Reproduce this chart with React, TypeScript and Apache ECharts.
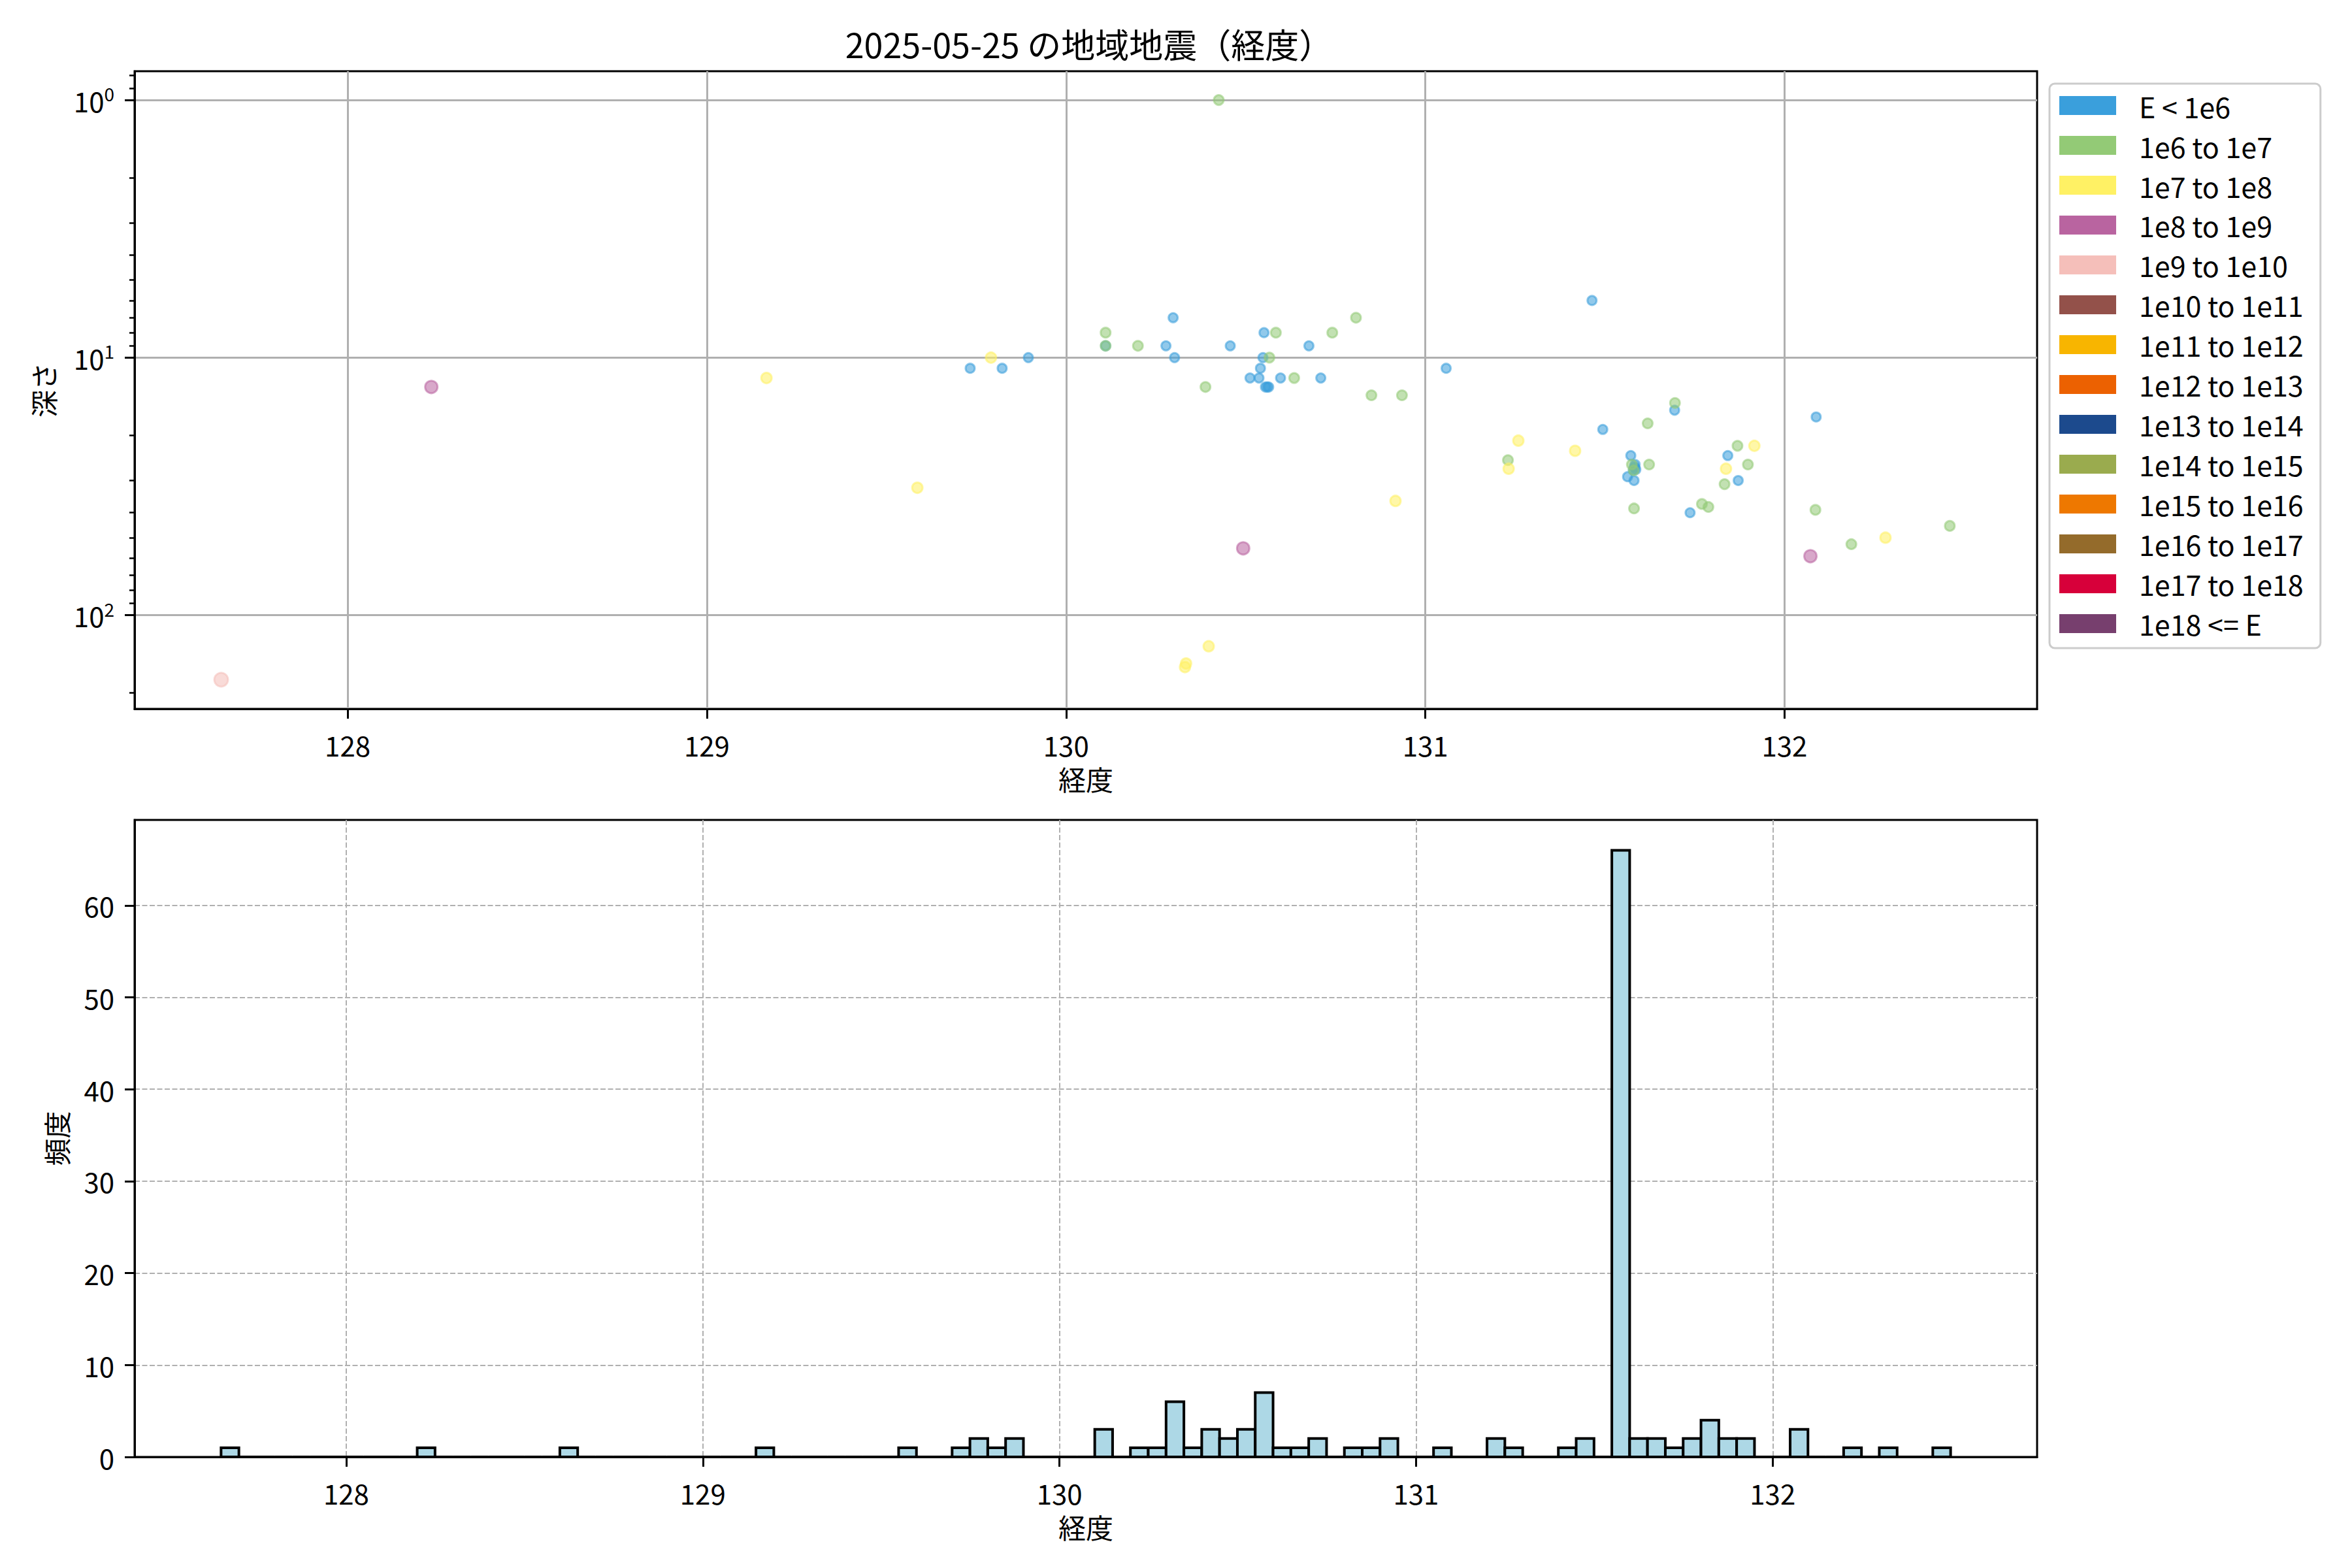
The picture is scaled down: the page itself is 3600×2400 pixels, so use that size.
import React, { useEffect, useRef } from 'react';
import * as echarts from 'echarts';

const FONT = '"Noto Sans CJK JP", "Noto Sans", sans-serif';

// Energy classes (legend)
const CLASS_LABELS = [
  'E < 1e6', '1e6 to 1e7', '1e7 to 1e8', '1e8 to 1e9', '1e9 to 1e10',
  '1e10 to 1e11', '1e11 to 1e12', '1e12 to 1e13', '1e13 to 1e14', '1e14 to 1e15',
  '1e15 to 1e16', '1e16 to 1e17', '1e17 to 1e18', '1e18 <= E',
];
const CLASS_COLORS = [
  '#3a9fdc', '#93ca76', '#fff164', '#b964a0', '#f5bfba',
  '#93514a', '#f8b500', '#ec6101', '#1c4a8d', '#9aab4e',
  '#ee7800', '#946b2b', '#d7003a', '#773f6e',
];
const CLASS_SIZES = [14, 15, 16, 19, 21, 22, 23, 24, 25, 26, 27, 28, 29, 30];

// Scatter points: longitude, depth, energy class index
const LONS = [
  127.648, 128.233, 129.166, 129.586, 129.733, 129.791, 129.822, 129.895,
  130.425, 130.110, 130.110, 130.110, 130.200, 130.298, 130.278, 130.302,
  130.388, 130.457, 130.551, 130.584, 130.548, 130.566, 130.541, 130.512,
  130.537, 130.597, 130.635, 130.709, 130.555, 130.564, 130.560, 130.676,
  130.741, 130.807, 130.850, 130.935, 130.917, 131.058, 130.493, 130.397,
  130.334, 130.331, 131.464, 131.494, 131.619, 131.695, 131.694, 131.259,
  131.417, 131.230, 131.232, 131.572, 131.582, 131.584, 131.579, 131.586,
  131.583, 131.563, 131.581, 131.575, 131.580, 131.623, 131.581, 131.737,
  131.770, 131.788, 131.842, 131.837, 131.833, 131.869, 131.871, 131.898,
  131.916, 132.088, 132.086, 132.072, 132.186, 132.281, 132.460,
];
const DEPTHS = [
  178, 13, 12, 32, 11, 10, 11, 10,
  1.0, 8.0, 9.0, 9.0, 9.0, 7.0, 9.0, 10,
  13, 9.0, 8.0, 8.0, 10, 10, 11, 12,
  12, 12, 12, 12, 13, 13, 13, 9.0,
  8.0, 7.0, 14, 14, 36, 11, 55, 132,
  154, 159, 6.0, 19, 18, 15, 16, 21,
  23, 25, 27, 24, 26.5, 26, 27.3, 27.2,
  26.8, 29, 30, 26, 27.4, 26, 38.5, 40,
  37, 38, 24, 27, 31, 22, 30, 26,
  22, 17, 39, 59, 53, 50, 45,
];
const CLASSES = [
  4, 3, 2, 2, 0, 2, 0, 0,
  1, 1, 0, 1, 1, 0, 0, 0,
  1, 0, 0, 1, 0, 1, 0, 0,
  0, 0, 1, 0, 0, 0, 0, 0,
  1, 1, 1, 1, 2, 0, 3, 2,
  2, 2, 0, 0, 1, 1, 0, 2,
  2, 1, 2, 0, 0, 0, 0, 0,
  0, 0, 0, 1, 1, 1, 1, 0,
  1, 1, 0, 2, 1, 1, 0, 1,
  2, 0, 1, 3, 1, 2, 1,
];

// Histogram of longitudes: bins of 0.05 degrees starting at the minimum longitude
const HIST_START = 127.649;
const HIST_WIDTH = 0.05;
const HIST_COUNTS = [
  1, 0, 0, 0, 0, 0, 0, 0, 0, 0,
  0, 1, 0, 0, 0, 0, 0, 0, 0, 1,
  0, 0, 0, 0, 0, 0, 0, 0, 0, 0,
  1, 0, 0, 0, 0, 0, 0, 0, 1, 0,
  0, 1, 2, 1, 2, 0, 0, 0, 0, 3,
  0, 1, 1, 6, 1, 3, 2, 3, 7, 1,
  1, 2, 0, 1, 1, 2, 0, 0, 1, 0,
  0, 2, 1, 0, 0, 1, 2, 0, 66, 2,
  2, 1, 2, 4, 2, 2, 0, 0, 3, 0,
  0, 1, 0, 1, 0, 0, 1,
];

// Ticks
const X_TICKS = [128, 129, 130, 131, 132];
const Y_MAJOR = [1, 10, 100];
const Y_MINOR = [0.8, 0.9, 2, 3, 4, 5, 6, 7, 8, 9, 20, 30, 40, 50, 60, 70, 80, 90, 200];
const HIST_Y_TICKS = [0, 10, 20, 30, 40, 50, 60];

const TEXT = { color: '#000', fontFamily: FONT };

function hexToRgba(hex: string, a: number) {
  const n = parseInt(hex.slice(1), 16);
  return `rgba(${(n >> 16) & 255},${(n >> 8) & 255},${n & 255},${a})`;
}

export default function App() {
  const ref = useRef<HTMLDivElement>(null);
  useEffect(() => {
    document.body.style.margin = '0';
    if (!ref.current) return;
    const chart = echarts.init(ref.current, undefined, { renderer: 'svg' });

    const scatterSeries = CLASS_LABELS.map((name, ci) => ({
      name,
      type: 'scatter',
      xAxisIndex: 0,
      yAxisIndex: 0,
      symbol: 'circle',
      symbolSize: CLASS_SIZES[ci],
      itemStyle: {
        color: hexToRgba(CLASS_COLORS[ci], 0.7),
        borderColor: hexToRgba(CLASS_COLORS[ci], 0.7),
        borderWidth: 3,
      },
      emphasis: { disabled: true },
      data: LONS.map((lon, i) => (CLASSES[i] === ci ? [lon, DEPTHS[i]] : null)).filter(Boolean),
    }));

    const histData = HIST_COUNTS.map((c, i) => [HIST_START + i * HIST_WIDTH, HIST_START + (i + 1) * HIST_WIDTH, c]);

    const xName = { ...TEXT, fontSize: 42, lineHeight: 36 };
    const xLabel = { ...TEXT, fontSize: 42, lineHeight: 36 };

    const option: any = {
      animation: false,
      textStyle: { fontFamily: FONT },
      title: {
        text: '2025-05-25 の地域地震（経度）',
        left: 1662,
        top: 35,
        textAlign: 'center',
        textStyle: { ...TEXT, fontSize: 52, fontWeight: 'normal' },
      },
      legend: {
        orient: 'vertical',
        left: 3137,
        top: 128,
        itemWidth: 87,
        itemHeight: 29,
        itemGap: 18,
        padding: [12, 26, 16, 15],
        borderColor: '#cccccc',
        borderWidth: 3,
        borderRadius: 8,
        backgroundColor: '#ffffff',
        icon: 'rect',
        selectedMode: false,
        textStyle: { ...TEXT, fontSize: 43, lineHeight: 42, padding: [0, 0, 0, 30] },
        data: CLASS_LABELS.map((name, ci) => ({
          name,
          icon: 'rect',
          itemStyle: { color: CLASS_COLORS[ci], borderWidth: 0, opacity: 1 },
        })),
      },
      grid: [
        { left: 206, top: 109, width: 2912, height: 976, show: true, borderColor: '#000', borderWidth: 3, backgroundColor: 'transparent' },
        { left: 206, top: 1255, width: 2912, height: 975, show: true, borderColor: '#000', borderWidth: 3, backgroundColor: 'transparent' },
      ],
      xAxis: [
        {
          type: 'value', gridIndex: 0, min: 127.407, max: 132.703,
          name: '経度', nameLocation: 'middle', nameGap: 88,
          nameTextStyle: xName,
          axisLine: { show: true, onZero: false, lineStyle: { color: '#000', width: 3 } },
          axisTick: { show: true, length: 15, customValues: X_TICKS, lineStyle: { color: '#000', width: 3 } },
          axisLabel: { customValues: X_TICKS, margin: 36, ...xLabel },
          splitLine: { show: true, lineStyle: { color: '#b0b0b0', width: 3 } },
        },
        {
          type: 'value', gridIndex: 1, min: 127.4065, max: 132.7415,
          name: '経度', nameLocation: 'middle', nameGap: 88,
          nameTextStyle: xName,
          axisLine: { show: true, onZero: false, lineStyle: { color: '#000', width: 3 } },
          axisTick: { show: true, length: 15, customValues: X_TICKS, lineStyle: { color: '#000', width: 3 } },
          axisLabel: { customValues: X_TICKS, margin: 36, ...xLabel },
          splitLine: { show: true, lineStyle: { color: '#b0b0b0', width: 2, type: [8, 3.5] } },
        },
      ],
      yAxis: [
        {
          type: 'log', logBase: 10, gridIndex: 0, min: 0.773, max: 231, inverse: true,
          position: 'left',
          name: '深さ', nameLocation: 'middle', nameGap: 120, nameRotate: 90,
          nameTextStyle: { ...TEXT, fontSize: 42 },
          axisLine: { show: true, onZero: false, lineStyle: { color: '#000', width: 3 } },
          axisTick: { show: true, length: 15, customValues: Y_MAJOR, lineStyle: { color: '#000', width: 3 } },
          axisLabel: {
            customValues: Y_MAJOR,
            margin: 31,
            formatter: (v: number) => `{b|10}{s|${Math.round(Math.log10(v))}}`,
            rich: {
              b: { ...TEXT, fontSize: 42, lineHeight: 48 },
              s: { ...TEXT, fontSize: 28, lineHeight: 30, verticalAlign: 'top' },
            },
          },
          splitLine: { show: true, lineStyle: { color: '#b0b0b0', width: 3 } },
        },
        {
          type: 'log', logBase: 10, gridIndex: 0, min: 0.773, max: 231, inverse: true,
          position: 'left', offset: 0,
          axisLine: { show: false },
          axisTick: { show: true, length: 8, customValues: Y_MINOR, lineStyle: { color: '#000', width: 2.5 } },
          axisLabel: { show: false },
          splitLine: { show: false },
        },
        {
          type: 'value', gridIndex: 1, min: 0, max: 69.3,
          name: '頻度', nameLocation: 'middle', nameGap: 100, nameRotate: 90,
          nameTextStyle: { ...TEXT, fontSize: 42 },
          axisLine: { show: true, onZero: false, lineStyle: { color: '#000', width: 3 } },
          axisTick: { show: true, length: 15, customValues: HIST_Y_TICKS, lineStyle: { color: '#000', width: 3 } },
          axisLabel: { customValues: HIST_Y_TICKS, margin: 31, ...TEXT, fontSize: 42 },
          splitLine: { show: true, lineStyle: { color: '#b0b0b0', width: 2, type: [8, 3.5] } },
        },
      ],
      series: [
        ...scatterSeries,
        {
          type: 'custom',
          xAxisIndex: 1,
          yAxisIndex: 2,
          clip: false,
          encode: { x: [0, 1], y: 2 },
          data: histData,
          renderItem: (_params: any, api: any) => {
            const p0 = api.coord([api.value(0), api.value(2)]);
            const p1 = api.coord([api.value(1), 0]);
            return {
              type: 'rect',
              shape: { x: p0[0], y: p0[1], width: p1[0] - p0[0], height: p1[1] - p0[1] },
              style: { fill: '#add8e6', stroke: '#000', lineWidth: 4 },
            };
          },
        },
      ],
    };
    chart.setOption(option);
    return () => chart.dispose();
  }, []);
  return <div ref={ref} style={{ width: 3600, height: 2400 }} />;
}
